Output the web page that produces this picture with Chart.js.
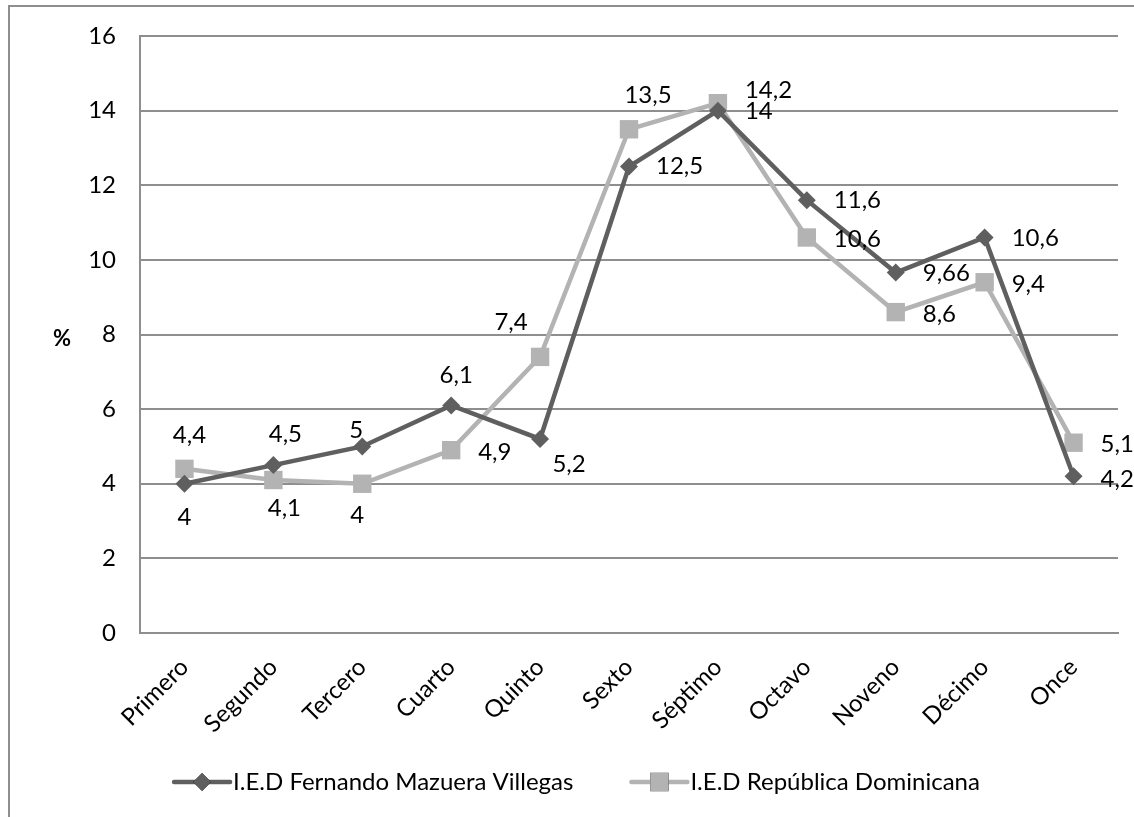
<!DOCTYPE html>
<html>
<head>
<meta charset="utf-8">
<script src="https://cdn.jsdelivr.net/npm/chart.js@4/dist/chart.umd.min.js"></script>
<style>
  html, body { margin: 0; padding: 0; background: #fff; }
  #wrap { width: 1134px; height: 817px; position: relative; }
</style>
</head>
<body>
<div id="wrap"><canvas id="chart" width="1134" height="817"></canvas></div>
<script>
// Grades and percentages per school
const grades = ['Primero', 'Segundo', 'Tercero', 'Cuarto', 'Quinto', 'Sexto', 'Séptimo', 'Octavo', 'Noveno', 'Décimo', 'Once'];
const fernandoName = 'I.E.D Fernando Mazuera Villegas';
const fernandoValues = [4, 4.5, 5, 6.1, 5.2, 12.5, 14, 11.6, 9.66, 10.6, 4.2];
const dominicanaName = 'I.E.D República Dominicana';
const dominicanaValues = [4.4, 4.1, 4, 4.9, 7.4, 13.5, 14.2, 10.6, 8.6, 9.4, 5.1];
const yTicks = [0, 2, 4, 6, 8, 10, 12, 14, 16];

// label placement relative to each point: 'c' = centred at dx,dy ; 'r' = to the right, dy
const fernandoLabelPos = [['c', 0, 34], ['c', 12, -31], ['c', -6, -16], ['c', 5, -30], ['c', 29, 25],
  ['r', 0], ['r', 1], ['r', 0], ['r', 1], ['r', 1], ['r', 3]];
const dominicanaLabelPos = [['c', 5, -34], ['c', 11, 28], ['c', -5, 32], ['r', 2], ['c', -29, -35],
  ['c', 19, -34], ['r', -13], ['r', 2], ['r', 2], ['r', 2], ['r', 2]];

const colors = { dark: '#5f5f5f', light: '#b3b3b3', grid: '#8e8e8e', text: '#000000' };
const FONT = 'Lato, Calibri, "Open Sans", sans-serif';
const FS = 24;

const fmt = v => String(v).replace('.', ',');

// Data labels, frame, "%" axis caption and legend
const decorPlugin = {
  id: 'decor',
  beforeDraw(chart) {
    const ctx = chart.ctx;
    ctx.save();
    ctx.strokeStyle = colors.grid;
    ctx.lineWidth = 2;
    ctx.strokeRect(9, 6, chart.width + 20, chart.height + 20);
    ctx.restore();
  },
  afterDraw(chart) {
    const ctx = chart.ctx;
    const area = chart.chartArea;
    ctx.save();
    ctx.fillStyle = colors.text;
    ctx.font = FS + 'px ' + FONT;
    ctx.textBaseline = 'middle';

    const placements = [fernandoLabelPos, dominicanaLabelPos];
    chart.data.datasets.forEach((ds, di) => {
      chart.getDatasetMeta(di).data.forEach((pt, i) => {
        const p = placements[di][i];
        const txt = fmt(ds.data[i]);
        if (p[0] === 'r') {
          ctx.textAlign = 'left';
          ctx.fillText(txt, pt.x + 27, pt.y + p[1]);
        } else {
          ctx.textAlign = 'center';
          ctx.fillText(txt, pt.x + p[1], pt.y + p[2]);
        }
      });
    });

    // "%" caption
    ctx.font = 'bold 22px ' + FONT;
    ctx.textAlign = 'center';
    ctx.fillText('%', 62, (area.top + area.bottom) / 2 + 4);

    // legend: line + marker + name
    ctx.font = FS + 'px ' + FONT;
    const lineLen = 56, gapText = 3, gapItem = 58;
    const items = chart.data.datasets.map(ds => ({ ds, w: lineLen + gapText + ctx.measureText(ds.label).width }));
    const total = items.reduce((s, it) => s + it.w, 0) + gapItem * (items.length - 1);
    let x = chart.width / 2 - total / 2 + 10;
    const y = 782;
    items.forEach(it => {
      const ds = it.ds;
      ctx.strokeStyle = ds.borderColor;
      ctx.lineWidth = ds.borderWidth;
      ctx.lineCap = 'round';
      ctx.beginPath();
      ctx.moveTo(x, y);
      ctx.lineTo(x + lineLen, y);
      ctx.stroke();
      Chart.helpers.drawPoint(ctx, {
        pointStyle: ds.pointStyle, radius: ds.pointRadius, borderWidth: 0
      }, x + lineLen / 2, y);
      ctx.fillStyle = ds.pointBackgroundColor;
      ctx.fill();
      ctx.fillStyle = colors.text;
      ctx.textAlign = 'left';
      ctx.fillText(ds.label, x + lineLen + gapText, y);
      x += it.w + gapItem;
    });
    ctx.restore();
  }
};

new Chart(document.getElementById('chart'), {
  type: 'line',
  data: {
    labels: grades,
    datasets: [
      {
        label: fernandoName, data: fernandoValues,
        borderColor: colors.dark, backgroundColor: colors.dark,
        pointBackgroundColor: colors.dark, pointBorderWidth: 0,
        borderWidth: 4.5, pointStyle: 'rectRot', pointRadius: 9, pointHoverRadius: 9,
        tension: 0, order: 1
      },
      {
        label: dominicanaName, data: dominicanaValues,
        borderColor: colors.light, backgroundColor: colors.light,
        pointBackgroundColor: colors.light, pointBorderWidth: 0,
        borderWidth: 4.5, pointStyle: 'rect', pointRadius: 13, pointHoverRadius: 13,
        tension: 0, order: 2
      }
    ]
  },
  options: {
    responsive: false, animation: false,
    layout: { padding: { top: 36, right: 16, left: 0, bottom: 0 } },
    plugins: { legend: { display: false }, tooltip: { enabled: false } },
    scales: {
      x: {
        offset: true,
        afterFit: s => { s.height = 184; s.paddingLeft = 0; s.paddingRight = 0; },
        grid: { display: false, drawTicks: false, offset: true },
        border: { display: true, color: colors.grid, width: 2 },
        ticks: {
          color: colors.text, font: { family: FONT, size: FS },
          minRotation: 45, maxRotation: 45, padding: 20, autoSkip: false
        }
      },
      y: {
        min: 0, max: 16,
        afterFit: s => { s.width = 140; s.paddingTop = 0; s.paddingBottom = 0; },
        afterBuildTicks: s => { s.ticks = yTicks.map(v => ({ value: v })); },
        grid: { color: colors.grid, lineWidth: 2, drawTicks: false },
        border: { display: true, color: colors.grid, width: 2 },
        ticks: { color: colors.text, font: { family: FONT, size: FS }, padding: 24 }
      }
    }
  },
  plugins: [decorPlugin]
});
</script>
</body>
</html>
